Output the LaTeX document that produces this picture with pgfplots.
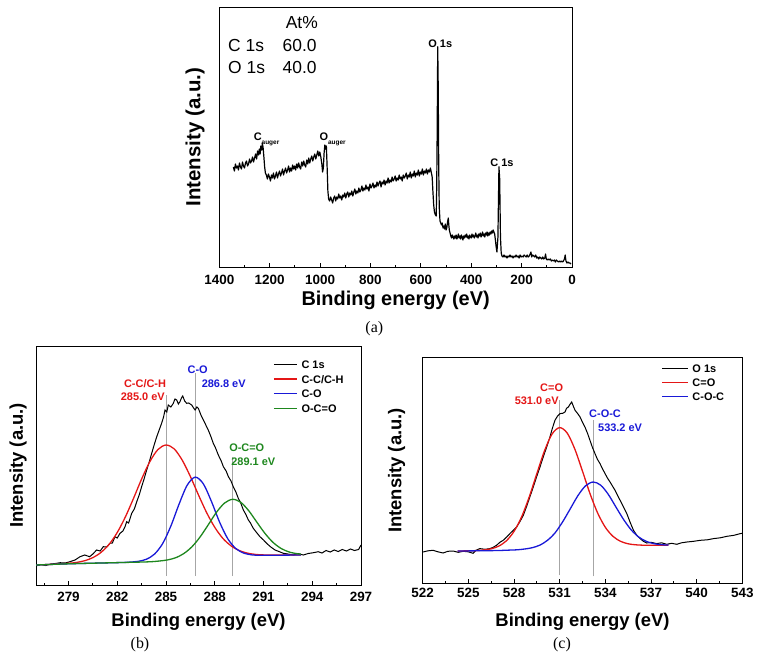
\documentclass[border=0pt]{standalone}
\usepackage{fontspec}
\setmainfont{Liberation Sans}
\newfontfamily\capfont{Liberation Serif}
\usepackage{pgfplots}
\pgfplotsset{compat=1.18}
\definecolor{fr}{RGB}{228,22,22}
\definecolor{fb}{RGB}{25,25,215}
\definecolor{fg}{RGB}{30,135,30}
\tikzset{lab/.style={font=\bfseries\fontsize{11}{11}\selectfont, inner sep=0pt, text depth=0pt}}
\pgfplotsset{
  xps/.style={
    scale only axis, anchor=north west,
    axis line style={line width=1bp},
    tick align=inside, xtick pos=bottom, ytick=\empty,
    major tick length=4bp, minor tick length=2.5bp,
    tick style={black, line width=0.8bp},
    /pgf/number format/assume math mode=true,
    /pgf/number format/1000 sep={},
    xticklabel style={font=\bfseries\fontsize{13.5}{14}\selectfont, anchor=center},
    ymin=0,
    xlabel={Binding energy (eV)}, ylabel={Intensity (a.u.)},
  },
  fit/.style={line width=1.3bp, smooth},
  vl/.style={gray!70, line width=0.5bp, forget plot},
}
\begin{document}
\begin{tikzpicture}
\path[use as bounding box] (0,0) rectangle (759bp,-656bp);
% ---------------- (a) survey ----------------
\begin{axis}[xps, at={(219.3bp,-7.3bp)}, width=352.7bp, height=259.7bp,
  x dir=reverse, xmin=0, xmax=1400, ymax=259.7,
  xtick={0,200,...,1400}, minor xtick={100,300,...,1300},
  xticklabel style={yshift=-13bp},
  every axis x label/.style={at={(axis description cs:0.5,0)}, anchor=center, yshift=-33bp, font=\bfseries\fontsize{20}{20}\selectfont},
  every axis y label/.style={at={(axis description cs:-0.0689,0.5)}, anchor=center, rotate=90, font=\bfseries\fontsize{20.5}{20.5}\selectfont}]
\addplot[black, line width=1.2bp, line join=round] coordinates {
(1344,100) (1340,96) (1336,103) (1332,99) (1328,101) (1324,97) (1320,104) (1316,100) (1312,98) (1308,105)
(1304,101) (1300,99) (1296,104) (1292,106) (1288,101) (1284,103) (1280,108) (1276,104) (1272,106) (1268,110)
(1264,105) (1260,109) (1256,113) (1252,108) (1248,116) (1244,112) (1241,118) (1238,113) (1235,121) (1232,117)
(1229,124) (1226,119) (1223,110) (1220,100) (1217,94)
(1213,92) (1209,88) (1205,93) (1201,90) (1197,86) (1193,92) (1189,89) (1185,94) (1181,88) (1177,91)
(1173,95) (1169,89) (1165,93) (1161,96) (1157,91) (1153,94) (1149,98) (1145,92) (1141,96) (1137,99)
(1133,94) (1129,97) (1125,101) (1121,95) (1117,99) (1113,96) (1109,102) (1105,98) (1101,101) (1097,97)
(1093,103) (1089,99) (1085,104) (1081,100) (1077,98) (1073,105) (1069,101) (1065,106) (1061,102) (1057,100)
(1053,107) (1049,103) (1045,109) (1041,104) (1037,108) (1033,111) (1029,106) (1025,110) (1021,113) (1017,108)
(1013,112) (1009,116) (1005,111) (1001,115) (997,110) (993,103) (990,95) (987,99) (984,114) (981,122)
(978,118) (975,121) (972,100) (969,76)
(966,68) (962,66) (958,70) (954,67) (950,64) (946,69) (942,71) (938,66) (934,70) (930,68)
(926,73) (922,69) (918,71) (914,67) (910,72) (906,70) (902,74) (898,69) (894,73) (890,75)
(886,70) (882,74) (878,72) (874,76) (870,71) (866,75) (862,78) (858,73) (854,76) (850,74)
(846,79) (842,75) (838,77) (834,81) (830,76) (826,79) (822,77) (818,82) (814,78) (810,80)
(806,76) (802,83) (798,79) (794,81) (790,84) (786,79) (782,82) (778,80) (774,85) (770,81)
(766,84) (762,86) (758,80) (754,85) (750,83) (746,87) (742,82) (738,86) (734,84) (730,89)
(726,84) (722,87) (718,85) (714,90) (710,86) (706,88) (702,91) (698,86) (694,89) (690,87)
(686,92) (682,88) (678,90) (674,86) (670,92) (666,89) (662,91) (658,94) (654,88) (650,92)
(646,90) (642,95) (638,89) (634,93) (630,91) (626,96) (622,90) (618,94) (614,92) (610,97)
(606,91) (602,95) (598,93) (594,98) (590,92) (586,96) (582,94) (578,98) (574,93) (570,97)
(566,95) (562,99) (558,94) (555,90) (552,75) (549,62) (546,55) (542,52) (539,51) (537,80)
(535,140) (533,220.3) (531,180) (529,100) (527,60) (524,46)
(521,44) (518,42) (515,44) (512,39) (509,41) (506,38) (503,43) (500,37) (497,39) (494,45)
(491,49) (489,42) (487,37) (484,34) (481,31) (478,29) (475,32) (472,30) (469,28) (466,31)
(463,29) (460,32) (457,28) (454,30) (451,33) (448,29) (445,31) (442,28) (439,32) (436,30)
(433,27) (430,31) (427,29) (424,32) (421,30) (418,33) (415,29) (412,31) (409,28) (406,32)
(403,30) (400,29) (397,33) (394,30) (391,32) (388,29) (385,31) (382,34) (379,30) (376,32)
(373,29) (370,33) (367,31) (364,34) (361,30) (358,32) (355,35) (352,31) (349,33) (346,30)
(343,34) (340,32) (337,35) (334,31) (331,34) (328,32) (325,35) (322,33) (319,36) (316,34)
(313,37) (310,35) (307,33) (304,27) (301,20) (298,15) (294,30) (290,100.3) (287,88) (284,30)
(281,14) (278,11)
(274,10) (270,12) (266,10) (262,11) (258,9) (254,11) (250,10) (246,12) (242,10) (238,11)
(234,9) (230,11) (226,10) (222,12) (218,10) (214,11) (210,9) (206,12) (202,10) (198,11)
(194,10) (190,12) (186,11) (182,10) (178,12) (174,10) (170,11) (166,13) (163,15) (160,10)
(156,12) (152,11) (148,10) (144,12) (140,9) (136,10) (132,8) (128,10) (124,9) (120,8)
(116,10) (112,8) (108,9) (105,13) (102,8) (98,7) (94,8) (90,7) (86,8) (82,6)
(78,7) (74,6) (70,7) (66,5) (62,7) (58,6) (54,5) (50,6) (46,5) (42,6)
(38,5) (34,6) (30,8) (27,12) (24,6) (20,4) (16,5) (12,4) (8,4) (4,3)
};
\node[lab, anchor=base west] at (axis cs:1264,126.3) {C\raisebox{-3.5bp}{\fontsize{6.5}{7}\selectfont auger}};
\node[lab, anchor=base west] at (axis cs:1002.7,126.3) {O\raisebox{-3.5bp}{\fontsize{6.5}{7}\selectfont auger}};
\node[lab] at (axis cs:523,223.7) {O 1s};
\node[lab] at (axis cs:278,104.7) {C 1s};
\node[inner sep=0pt, font=\fontsize{17.5}{17.5}\selectfont] at (axis cs:1072.6,244) {At\%};
\node[inner sep=0pt, anchor=west, font=\fontsize{17.5}{17.5}\selectfont] at (axis cs:1365.4,221.5) {C 1s};
\node[inner sep=0pt, anchor=west, font=\fontsize{17.5}{17.5}\selectfont] at (axis cs:1149,221.5) {60.0};
\node[inner sep=0pt, anchor=west, font=\fontsize{17.5}{17.5}\selectfont] at (axis cs:1365.4,199.5) {O 1s};
\node[inner sep=0pt, anchor=west, font=\fontsize{17.5}{17.5}\selectfont] at (axis cs:1149,199.5) {40.0};
\end{axis}
% ---------------- (b) C 1s ----------------
\begin{axis}[xps, at={(36bp,-346bp)}, width=325bp, height=239bp,
  xmin=277, xmax=297, ymax=239,
  xtick={279,282,...,297}, minor xtick={277.5,280.5,...,295.5},
  xticklabel style={yshift=-11.5bp},
  every axis x label/.style={at={(axis description cs:0.5,0)}, anchor=center, yshift=-36.7bp, font=\bfseries\fontsize{18.5}{18.5}\selectfont},
  every axis y label/.style={at={(axis description cs:-0.0554,0.5)}, anchor=center, rotate=90, font=\bfseries\fontsize{18.5}{18.5}\selectfont},
  legend image code/.code={\draw[#1] (0bp,0bp) -- (23bp,0bp);},
  legend cell align=left,
  legend style={draw=none, fill=none, at={(axis cs:291.6,224.7)}, anchor=north west, inner sep=0pt, outer sep=0pt,
    font=\bfseries\fontsize{11}{11}\selectfont, nodes={inner sep=0pt, text height=8bp, text depth=0pt},
    row sep=6.7bp, column sep=4bp}]
\addplot[vl] coordinates {(285,9) (285,190)};
\addplot[vl] coordinates {(286.8,9) (286.8,212)};
\addplot[vl] coordinates {(289.1,9) (289.1,128)};
\addplot[black, line width=1bp] coordinates {
(277.0,19) (277.3,20.5) (277.6,19.5) (277.9,21) (278.2,21.5) (278.48,22.3) (278.8,22) (279.09,23.3)
(279.4,25) (279.71,28.3) (280.0,30) (280.3,28.3) (280.5,31) (280.73,35) (280.95,34) (281.14,38.3)
(281.35,38) (281.55,41.7) (281.7,42) (281.86,48.3) (282.0,47) (282.17,51.7) (282.35,54) (282.48,58.3)
(282.58,63.3) (282.7,62) (282.89,71.7) (283.05,76) (283.2,83.3) (283.35,90) (283.5,98.3) (283.65,106)
(283.81,115) (283.95,122) (284.12,131.7) (284.27,140) (284.43,148.3) (284.58,155) (284.73,161.7)
(284.85,168) (284.94,175) (285.05,173) (285.14,180) (285.3,178) (285.45,181.7) (285.55,186)
(285.66,185) (285.76,181) (285.86,183.3) (285.95,187) (286.03,189) (286.15,184) (286.27,181.7)
(286.4,182) (286.58,180) (286.7,177) (286.79,175) (286.9,178) (286.99,176.7) (287.15,170) (287.3,165)
(287.45,160) (287.6,155) (287.75,149) (287.91,141.7) (288.05,137) (288.22,130) (288.4,124)
(288.53,118.3) (288.7,114) (288.84,108.3) (289.0,104) (289.14,98.3) (289.3,93) (289.45,86.7)
(289.6,82) (289.76,75) (289.9,71) (290.07,65) (290.2,62) (290.37,56.7) (290.55,53) (290.78,48.3)
(291.0,45) (291.19,41.7) (291.45,38) (291.71,35) (291.95,33.5) (292.22,31.7) (292.5,31) (292.84,30)
(293.1,31.5) (293.45,30) (293.75,31.5) (294.07,32.3) (294.37,33.3) (294.6,32) (294.85,34.5)
(295.1,33) (295.35,35) (295.6,33.5) (295.85,35.5) (296.1,34) (296.35,36) (296.6,34.5) (296.85,35.5) (297.0,40)
};
\addlegendentry{C 1s}
\addplot[fr, fit] coordinates {
(277,20.0) (278,20.7) (279,21.7) (279.5,22.6) (280,24.3) (280.5,27.4) (281,32.6) (281.5,40.7)
(282,52.5) (282.5,68.1) (283,86.6) (283.5,106.0) (284,123.2) (284.5,135.4) (285,140.0) (285.5,136.2)
(286,124.8) (286.5,108.5) (287,90.0) (287.5,72.4) (288,57.7) (288.5,46.6) (289,39.2) (289.5,34.5)
(290,31.9) (290.5,30.6) (291,30.1) (292,29.9) (293.3,30.0)
};
\addlegendentry{C-C/C-H}
\addplot[fb, fit] coordinates {
(277,20.0) (279,21.2) (281.3,22.1) (282.3,22.5) (282.8,22.9) (283.3,23.7) (283.8,25.8) (284.3,31.0)
(284.8,41.6) (285.3,59.0) (285.8,80.7) (286.3,99.7) (286.8,107.9) (287.3,101.1) (287.8,83.4)
(288.3,62.8) (288.8,46.3) (289.3,36.4) (289.8,31.8) (290.3,30.1) (290.8,29.7) (291.8,29.8) (293.3,30.0)
};
\addlegendentry{C-O}
\addplot[fg, fit] coordinates {
(277,20.0) (279,21.2) (281,22.0) (283.1,22.8) (283.6,23.0) (284.1,23.3) (284.6,24.0) (285.1,25.1)
(285.6,27.3) (286.1,31.5) (286.6,38.3) (287.1,48.1) (287.6,60.2) (288.1,72.6) (288.6,81.9) (289.1,85.7)
(289.6,82.7) (290.1,74.1) (290.6,62.6) (291.1,51.4) (291.6,42.4) (292.1,36.4) (292.6,32.9) (293.1,31.2) (293.3,30.9)
};
\addlegendentry{O-C=O}
\node[lab, text=fr] at (axis cs:283.71,201) {C-C/C-H};
\node[lab, text=fr] at (axis cs:283.57,188.3) {285.0 eV};
\node[lab, text=fb] at (axis cs:286.95,215) {C-O};
\node[lab, text=fb] at (axis cs:288.55,201.7) {286.8 eV};
\node[lab, text=fg] at (axis cs:289.97,137.7) {O-C=O};
\node[lab, text=fg] at (axis cs:290.37,123.3) {289.1 eV};
\end{axis}
% ---------------- (c) O 1s ----------------
\begin{axis}[xps, at={(422.7bp,-357.7bp)}, width=319.6bp, height=225.6bp,
  xmin=522, xmax=543, ymax=225.6,
  xtick={522,525,...,543}, minor xtick={523.5,526.5,...,541.5},
  xticklabel style={yshift=-10bp},
  every axis x label/.style={at={(axis description cs:0.5,0)}, anchor=center, yshift=-38.4bp, font=\bfseries\fontsize{18.5}{18.5}\selectfont},
  every axis y label/.style={at={(axis description cs:-0.0814,0.5)}, anchor=center, rotate=90, font=\bfseries\fontsize{18.5}{18.5}\selectfont},
  legend image code/.code={\draw[#1] (0bp,0bp) -- (26bp,0bp);},
  legend cell align=left,
  legend style={draw=none, fill=none, at={(axis cs:537.71,219)}, anchor=north west, inner sep=0pt, outer sep=0pt,
    font=\bfseries\fontsize{11}{11}\selectfont, nodes={inner sep=0pt, text height=8bp, text depth=0pt},
    row sep=6.2bp, column sep=3.4bp}]
\addplot[vl] coordinates {(531,8) (531,183)};
\addplot[vl] coordinates {(533.2,7) (533.2,163)};
\addplot[black, line width=1bp] coordinates {
(522.02,31.3) (522.35,32.5) (522.68,33) (523.0,31.5) (523.34,30.3) (523.65,32) (524.0,32.3) (524.33,31)
(524.66,32) (525.0,31.5) (525.31,30) (525.5,33) (525.75,34.7) (526.1,34) (526.41,34.7) (526.63,36)
(526.85,38) (527.07,41) (527.29,43) (527.5,46) (527.73,49.7) (527.95,53) (528.17,56.3) (528.4,62)
(528.61,68) (528.83,77) (529.04,86.3) (529.26,96) (529.48,106.3) (529.7,116) (529.92,126.3) (530.14,136)
(530.36,146.3) (530.52,155) (530.69,163) (530.85,167) (531.02,169.7) (531.2,170) (531.35,171.3)
(531.45,175) (531.57,176.3) (531.68,179) (531.79,181.3) (531.9,177) (532.01,173) (532.17,170)
(532.34,166.3) (532.5,161) (532.66,156.3) (532.83,150) (532.99,143) (533.15,136) (533.32,129.7)
(533.48,124) (533.65,119.7) (533.8,115) (533.98,109.7) (534.15,105) (534.31,101.3) (534.48,97)
(534.64,93) (534.8,88) (534.97,83) (535.2,76) (535.41,69.7) (535.63,61) (535.85,53) (536.07,48)
(536.29,44.7) (536.5,42) (536.72,40.3) (537.0,41) (537.38,39.7) (537.7,40.5) (538.04,39) (538.35,40)
(538.7,39) (539.0,40.5) (539.36,41.3) (539.8,42) (540.24,43) (540.7,43.5) (541.11,44.7) (541.55,45.5)
(541.99,47) (542.45,48) (542.87,49.7) (543.0,50)
};
\addlegendentry{O 1s}
\addplot[fr, fit] coordinates {
(524.3,32.3) (525,32.5) (525.5,32.7) (526,33.3) (526.5,34.5) (527,37.2) (527.5,42.5) (528,51.9)
(528.5,66.5) (529,86.4) (529.5,109.7) (530,132.4) (530.5,149.3) (531,155.7) (531.5,150.1) (532,134.0)
(532.5,112.1) (533,89.4) (533.5,70.1) (534,56.0) (534.5,47.0) (535,42.0) (535.5,39.5) (536,38.5)
(536.5,38.1) (537,38.0) (538.15,38.0)
};
\addlegendentry{C=O}
\addplot[fb, fit] coordinates {
(524.3,32.3) (526.2,32.6) (527.2,32.9) (527.7,33.2) (528.2,33.5) (528.7,34.3) (529.2,35.6) (529.7,38.2)
(530.2,43.0) (530.7,50.5) (531.2,61.6) (531.7,74.6) (532.2,87.7) (532.7,97.5) (533.2,101.3) (533.7,98.1)
(534.2,88.8) (534.7,76.2) (535.2,63.8) (535.7,53.4) (536.2,46.2) (536.7,41.9) (537.2,39.6) (537.7,38.6) (538.15,38.2)
};
\addlegendentry{C-O-C}
\node[lab, text=fr] at (axis cs:530.47,195.7) {C=O};
\node[lab, text=fr] at (axis cs:529.49,182.3) {531.0 eV};
\node[lab, text=fb] at (axis cs:533.98,169.3) {C-O-C};
\node[lab, text=fb] at (axis cs:534.97,156) {533.2 eV};
\end{axis}
\node[font=\capfont\fontsize{16}{16}\selectfont] at (374.3bp,-329bp) {(a)};
\node[font=\capfont\fontsize{16}{16}\selectfont] at (140bp,-645bp) {(b)};
\node[font=\capfont\fontsize{16}{16}\selectfont] at (562bp,-645bp) {(c)};
\end{tikzpicture}
\end{document}
